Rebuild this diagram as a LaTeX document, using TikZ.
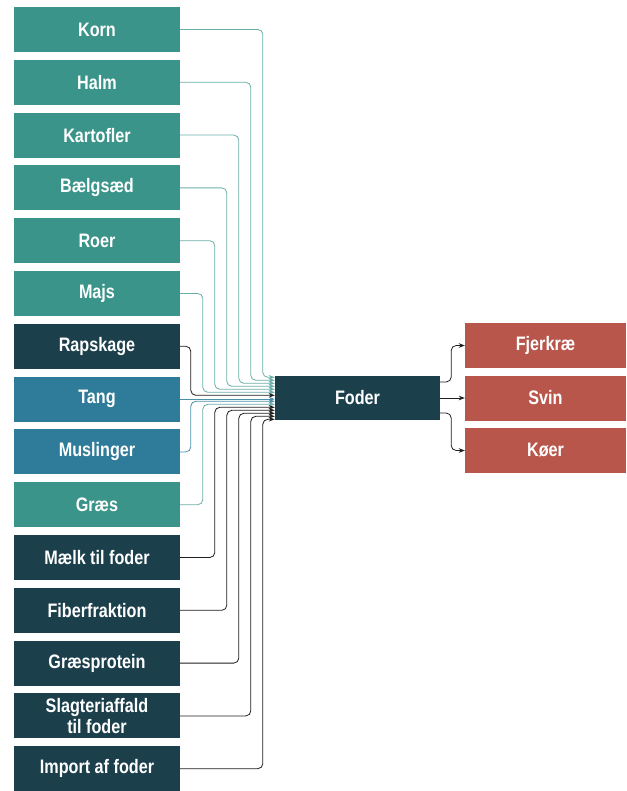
\documentclass[tikz,border=0pt]{standalone}
\usepackage{fontspec}
\setmainfont{Liberation Sans}[FakeStretch=0.83]
\usetikzlibrary{arrows.meta,calc}
\definecolor{cteal}{HTML}{3B9489}
\definecolor{cdark}{HTML}{1C3F4C}
\definecolor{cblue}{HTML}{2F7C9A}
\definecolor{cred}{HTML}{B8564C}
\definecolor{lteal}{HTML}{6AAFA7}
\definecolor{lblue}{HTML}{4A8FA8}
\definecolor{ldark}{HTML}{1E1E1E}
\tikzset{
  box/.style={minimum width=166pt, minimum height=45pt, inner sep=0pt, text=white,
    font=\bfseries\fontsize{19.5}{21}\selectfont, align=center},
  conn/.style={line width=0.8pt, rounded corners=5pt, -{Stealth[length=6pt,width=4.5pt]}},
  rarr/.style={line width=0.8pt, draw=ldark, rounded corners=5pt, -{Stealth[length=6pt,width=4.5pt]}}
}
\begin{document}
\begin{tikzpicture}[x=1pt,y={(0pt,-1pt)}]
\useasboundingbox (0,0) rectangle (626,791);
% left boxes
\node[box, fill=cteal] (korn) at (97,29.5) {Korn};
\node[box, fill=cteal] (halm) at (97,82.3) {Halm};
\node[box, fill=cteal] (kartofler) at (97,135.1) {Kartofler};
\node[box, fill=cteal] (baelg) at (97,187.9) {Bælgsæd};
\node[box, fill=cteal] (roer) at (97,240.7) {Roer};
\node[box, fill=cteal] (majs) at (97,293.5) {Majs};
\node[box, fill=cdark] (raps) at (97,346.3) {Rapskage};
\node[box, fill=cblue] (tang) at (97,399.1) {Tang};
\node[box, fill=cblue] (musl) at (97,451.9) {Muslinger};
\node[box, fill=cteal] (graes) at (97,504.7) {Græs};
\node[box, fill=cdark] (maelk) at (97,557.5) {Mælk til foder};
\node[box, fill=cdark] (fiber) at (97,610.3) {Fiberfraktion};
\node[box, fill=cdark] (gprot) at (97,663.1) {Græsprotein};
\node[box, fill=cdark] (slagt) at (97,715.9) {Slagteriaffald\\til foder};
\node[box, fill=cdark] (import) at (97,768.7) {Import af foder};
% center
\node[box, fill=cdark, minimum width=165pt, minimum height=44pt] (foder) at (357.5,398) {Foder};
% right boxes
\node[box, fill=cred, minimum width=161pt] (fjerk) at (545.5,345.5) {Fjerkræ};
\node[box, fill=cred, minimum width=161pt] (svin) at (545.5,398) {Svin};
\node[box, fill=cred, minimum width=161pt] (koer) at (545.5,450.5) {Køer};
% connectors upper
\foreach \n/\i/\c in {korn/0/lteal, halm/1/lteal, kartofler/2/lteal, baelg/3/lteal, roer/4/lteal, majs/5/lteal, raps/6/ldark}{
  \draw[conn, draw=\c] (\n.east) -| ($(foder.north west)+(-12-12*\i,1.5+3*\i)$) -- ($(foder.north west)+(0,1.5+3*\i)$);
}
\draw[conn, draw=lblue] (tang.east) -- (tang.east -| foder.west);
\foreach \n/\i/\c in {musl/8/lblue, graes/9/lteal, maelk/10/ldark, fiber/11/ldark, gprot/12/ldark, slagt/13/ldark, import/14/ldark}{
  \draw[conn, draw=\c] (\n.east) -| ($(foder.north west)+(-180+12*\i,1.5+3*\i)$) -- ($(foder.north west)+(0,1.5+3*\i)$);
}
% right connectors
\draw[rarr] ($(foder.east)+(0,-16)$) -- ++(11,0) |- (fjerk.west);
\draw[rarr] (foder.east) -- (svin.west);
\draw[rarr] ($(foder.east)+(0,15)$) -- ++(11,0) |- (koer.west);
\end{tikzpicture}
\end{document}
